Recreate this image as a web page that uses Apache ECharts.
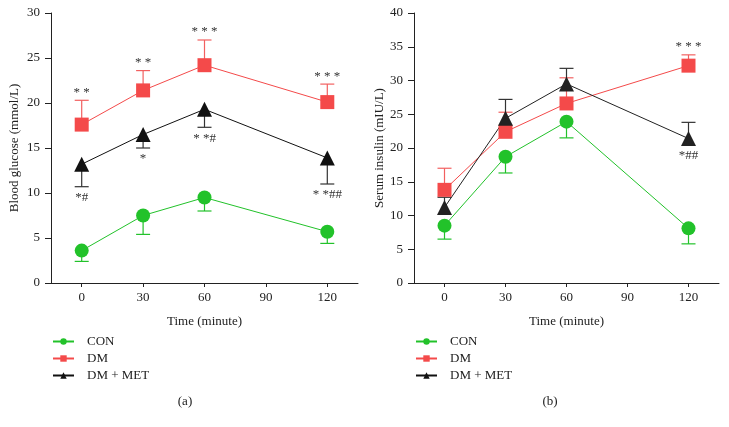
<!DOCTYPE html>
<html>
<head>
    <meta charset="utf-8" />
    <title>Blood glucose / Serum insulin</title>
    <script src="https://cdn.jsdelivr.net/npm/echarts@6/dist/echarts.min.js"></script>
    <style>
        body { margin: 0; background: #fff; }
    </style>
</head>
<body>
    <div id="main" style="width: 729px;height:427px;"></div>
    <script type="text/javascript">
        // time points (minute)
        var times = [0, 30, 60, 120];
        var tickValues = [0, 30, 60, 90, 120];

        // (a) blood glucose, mean and SD
        var gluCon = [3.6, 7.5, 9.5, 5.7];
        var gluConSd = [1.2, 2.1, 1.5, 1.3];
        var gluDm = [17.6, 21.4, 24.2, 20.1];
        var gluDmSd = [2.7, 2.2, 2.8, 2.0];
        var gluMet = [13.2, 16.5, 19.3, 13.9];
        var gluMetSd = [2.5, 1.5, 2.0, 2.9];
        var gluDmMarks = ['* *', '* *', '* * *', '* * *'];
        var gluMetMarks = ['*#', '*', '* *#', '* *##'];

        // (b) serum insulin, mean and SD
        var insCon = [8.5, 18.7, 23.9, 8.1];
        var insConSd = [2.0, 2.4, 2.4, 2.3];
        var insDm = [13.8, 22.4, 26.6, 32.2];
        var insDmSd = [3.2, 2.9, 3.8, 1.6];
        var insMet = [11.2, 24.4, 29.5, 21.4];
        var insMetSd = [1.5, 2.8, 2.3, 2.4];
        var insDmMarks = ['', '', '', '* * *'];
        var insMetMarks = ['', '', '', '*##'];

        var GREEN = '#22c22a', RED = '#f44a4a', BLACK = '#111111';
        var FONT = '"Liberation Serif", "DejaVu Serif", serif';

        var myChart = echarts.init(document.getElementById('main'));

        function pairs(vals) {
            return times.map(function(t, i) { return [t, vals[i]]; });
        }

        // line + markers
        function lineSeries(name, idx, vals, color, symbol, size) {
            return {
                name: name,
                type: 'line',
                xAxisIndex: idx,
                yAxisIndex: idx,
                data: pairs(vals),
                symbol: symbol,
                symbolSize: size,
                showAllSymbol: true,
                lineStyle: { color: color, width: 1 },
                itemStyle: { color: color },
                z: 3,
                animation: false
            };
        }

        // one sided error bar (dir 1 = up, -1 = down) plus significance text
        // below = true puts the text under the marker instead of past the cap
        function errSeries(idx, vals, sds, dir, color, marks, below) {
            return {
                type: 'custom',
                xAxisIndex: idx,
                yAxisIndex: idx,
                data: times.map(function(t, i) { return [t, vals[i], vals[i] + dir * sds[i]]; }),
                renderItem: function(params, api) {
                    var p0 = api.coord([api.value(0), api.value(1)]);
                    var p1 = api.coord([api.value(0), api.value(2)]);
                    var hw = 7;
                    var kids = [
                        { type: 'line', shape: { x1: p0[0], y1: p0[1], x2: p1[0], y2: p1[1] },
                          style: { stroke: color, lineWidth: 1.2 } },
                        { type: 'line', shape: { x1: p1[0] - hw, y1: p1[1], x2: p1[0] + hw, y2: p1[1] },
                          style: { stroke: color, lineWidth: 1.2 } }
                    ];
                    var txt = marks ? marks[params.dataIndex] : '';
                    if (txt) {
                        var ty = below ? p0[1] + 17 : p1[1] + (dir > 0 ? -8 : 11);
                        kids.push({
                            type: 'text',
                            style: {
                                text: txt,
                                x: p1[0],
                                y: ty,
                                align: 'center',
                                verticalAlign: 'middle',
                                fontSize: 13,
                                fontFamily: FONT,
                                fill: '#333'
                            }
                        });
                    }
                    return { type: 'group', children: kids };
                },
                z: 2,
                silent: true,
                animation: false
            };
        }

        function xAxis(idx) {
            return {
                type: 'value',
                gridIndex: idx,
                min: -15,
                max: 135,
                name: 'Time (minute)',
                nameLocation: 'middle',
                nameGap: 32,
                nameTextStyle: { fontFamily: FONT, fontSize: 13, color: '#222' },
                axisLine: { onZero: false, lineStyle: { color: '#222', width: 1 } },
                axisTick: { customValues: tickValues, length: 4, lineStyle: { color: '#222' } },
                axisLabel: { customValues: tickValues, fontFamily: FONT, fontSize: 13, color: '#222' },
                splitLine: { show: false }
            };
        }

        function yAxis(idx, max, name, gap) {
            return {
                type: 'value',
                gridIndex: idx,
                min: 0,
                max: max,
                interval: 5,
                name: name,
                nameLocation: 'middle',
                nameGap: gap,
                nameTextStyle: { fontFamily: FONT, fontSize: 13, color: '#222' },
                axisLine: { show: true, onZero: false, lineStyle: { color: '#222', width: 1 } },
                axisTick: { show: true, length: 6, lineStyle: { color: '#222' } },
                axisLabel: { fontFamily: FONT, fontSize: 13, color: '#222', margin: 11 },
                splitLine: { show: false }
            };
        }

        function legend(left) {
            return {
                orient: 'vertical',
                left: left,
                top: 330,
                itemWidth: 21,
                itemHeight: 8,
                itemGap: 4,
                data: ['CON', 'DM', 'DM + MET'],
                textStyle: { fontFamily: FONT, fontSize: 13, color: '#222', padding: [0, 0, 0, 8] }
            };
        }

        var option = {
            backgroundColor: '#fff',
            title: [
                { text: '(a)', left: 180, top: 390, textAlign: 'center',
                  textStyle: { fontFamily: FONT, fontSize: 13, fontWeight: 'normal', color: '#222' } },
                { text: '(b)', left: 545, top: 390, textAlign: 'center',
                  textStyle: { fontFamily: FONT, fontSize: 13, fontWeight: 'normal', color: '#222' } }
            ],
            legend: [legend(47), legend(410)],
            grid: [
                { left: 51, right: 371, top: 13, bottom: 144 },
                { left: 414, right: 10, top: 13, bottom: 144 }
            ],
            xAxis: [xAxis(0), xAxis(1)],
            yAxis: [
                yAxis(0, 30, 'Blood glucose (mmol/L)', 30),
                yAxis(1, 40, 'Serum insulin (mIU/L)', 28)
            ],
            series: [
                errSeries(0, gluCon, gluConSd, -1, GREEN, null),
                errSeries(0, gluDm, gluDmSd, 1, '#f26060', gluDmMarks),
                errSeries(0, gluMet, gluMetSd, -1, '#333', gluMetMarks),
                lineSeries('CON', 0, gluCon, GREEN, 'circle', 14),
                lineSeries('DM', 0, gluDm, RED, 'rect', 14),
                lineSeries('DM + MET', 0, gluMet, BLACK, 'triangle', 15),

                errSeries(1, insCon, insConSd, -1, GREEN, null),
                errSeries(1, insDm, insDmSd, 1, '#f26060', insDmMarks),
                errSeries(1, insMet, insMetSd, 1, '#333', insMetMarks, true),
                lineSeries('CON', 1, insCon, GREEN, 'circle', 14),
                lineSeries('DM', 1, insDm, RED, 'rect', 14),
                lineSeries('DM + MET', 1, insMet, '#222', 'triangle', 15)
            ]
        };
        myChart.setOption(option);
    </script>
</body>
</html>
